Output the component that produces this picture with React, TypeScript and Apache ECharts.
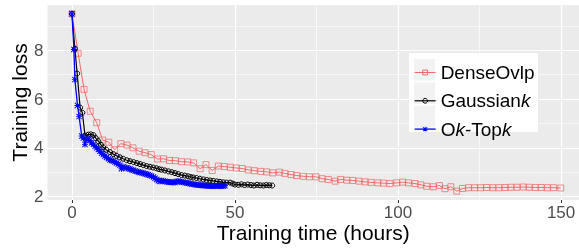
import React, { useEffect, useRef } from 'react';
import * as echarts from 'echarts';

const FONT = '"Liberation Sans", Arial, Helvetica, sans-serif';

const seriesNames = ['DenseOvlp', 'Gaussiank', 'Ok-Topk'];
const xTickLabels = [0, 50, 100, 150];
const xMinorGrid = [25, 75, 125];
const yTickLabels = [2, 4, 6, 8];
const yMinorGrid = [3, 5, 7, 9];

const denseT = [0, 1.9, 3.7, 5.6, 7.6, 9.4, 11.3, 13.1, 15.0, 16.9, 18.7, 20.6, 22.4, 24.3, 26.2, 28.1, 29.9, 31.7, 33.6, 35.5, 37.3, 39.3, 41.1, 43.0, 44.9, 46.7, 48.6, 50.4, 52.2, 54.1, 55.9, 57.9, 59.7, 61.6, 63.6, 65.3, 67.2, 68.9, 70.9, 72.8, 74.8, 76.7, 78.6, 80.7, 82.4, 84.3, 86.1, 88.0, 89.9, 91.7, 93.8, 95.5, 97.5, 99.6, 101.4, 103.2, 105.2, 107.0, 108.8, 110.8, 112.7, 114.4, 116.2, 118.0, 119.8, 121.6, 123.5, 125.3, 127.2, 129.1, 130.9, 132.8, 134.6, 136.5, 138.4, 140.2, 142.1, 143.9, 145.8, 147.7, 149.9];
const denseV = [9.5, 7.88, 6.4, 5.5, 5.03, 4.32, 4.23, 3.92, 4.17, 4.11, 4.0, 3.86, 3.8, 3.72, 3.54, 3.55, 3.48, 3.47, 3.43, 3.42, 3.38, 3.14, 3.31, 3.07, 3.25, 3.23, 3.2, 3.17, 3.15, 3.09, 3.06, 3.03, 3.01, 2.97, 3.0, 2.95, 2.9, 2.86, 2.83, 2.81, 2.81, 2.73, 2.7, 2.63, 2.7, 2.67, 2.66, 2.63, 2.6, 2.58, 2.56, 2.55, 2.53, 2.56, 2.59, 2.56, 2.53, 2.48, 2.42, 2.4, 2.45, 2.32, 2.4, 2.22, 2.33, 2.36, 2.36, 2.36, 2.37, 2.36, 2.36, 2.37, 2.38, 2.38, 2.39, 2.38, 2.37, 2.37, 2.36, 2.36, 2.35];

const gaussT = [0, 0.9, 1.6, 2.5, 3.2, 4.0, 5.0, 5.8, 6.6, 7.3, 8.1, 8.9, 9.6, 10.5, 11.7, 12.7, 13.7, 14.7, 15.7, 16.8, 17.8, 18.9, 19.9, 20.9, 21.9, 22.9, 23.9, 24.9, 25.9, 26.7, 27.5, 28.5, 29.6, 30.6, 31.6, 32.6, 33.6, 34.6, 35.6, 36.4, 37.2, 38.2, 39.2, 40.3, 41.3, 42.3, 43.3, 44.4, 45.4, 46.4, 47.4, 48.5, 49.3, 50.0, 51.0, 52.0, 52.9, 53.9, 54.9, 55.8, 56.8, 57.7, 58.7, 59.6, 60.5, 61.4];
const gaussV = [9.5, 8.07, 7.05, 5.65, 5.44, 4.5, 4.54, 4.55, 4.52, 4.4, 4.27, 4.12, 4.02, 3.92, 3.82, 3.74, 3.67, 3.61, 3.55, 3.49, 3.45, 3.41, 3.37, 3.33, 3.29, 3.25, 3.22, 3.19, 3.16, 3.12, 3.1, 3.07, 3.03, 3.0, 2.96, 2.92, 2.88, 2.86, 2.83, 2.8, 2.78, 2.76, 2.73, 2.7, 2.68, 2.66, 2.64, 2.62, 2.6, 2.58, 2.57, 2.57, 2.53, 2.49, 2.48, 2.5, 2.47, 2.49, 2.47, 2.45, 2.48, 2.46, 2.45, 2.47, 2.46, 2.45];

const oktopT = [0, 0.6, 0.9, 1.7, 2.2, 3.0, 3.5, 4.0, 4.5, 5.0, 5.5, 6.0, 6.6, 7.1, 7.6, 8.1, 8.6, 9.1, 9.6, 10.1, 10.6, 11.2, 11.7, 12.2, 12.7, 13.2, 13.7, 14.2, 14.7, 15.2, 15.7, 16.2, 16.8, 17.3, 17.8, 18.3, 18.8, 19.4, 19.9, 20.4, 20.9, 21.4, 21.9, 22.4, 22.9, 23.4, 23.9, 24.4, 25.0, 25.5, 26.0, 26.5, 27.0, 27.5, 28.0, 28.6, 29.1, 29.6, 30.1, 30.6, 31.1, 31.6, 32.1, 32.6, 33.1, 33.6, 34.1, 34.7, 35.2, 35.7, 36.2, 36.7, 37.2, 37.7, 38.2, 38.7, 39.3, 39.8, 40.3, 40.8, 41.3, 41.8, 42.3, 42.8, 43.3, 43.9, 44.4, 44.9, 45.4, 45.9, 46.4, 46.9];
const oktopV = [9.5, 8.04, 6.8, 5.74, 5.28, 4.48, 4.4, 4.14, 4.35, 4.34, 4.3, 4.2, 4.15, 4.06, 4.0, 3.93, 3.86, 3.78, 3.72, 3.66, 3.6, 3.55, 3.5, 3.48, 3.46, 3.42, 3.38, 3.33, 3.28, 3.14, 3.22, 3.19, 3.18, 3.15, 3.13, 3.1, 3.08, 3.05, 3.03, 3.01, 2.99, 2.97, 2.95, 2.93, 2.91, 2.89, 2.87, 2.84, 2.8, 2.75, 2.7, 2.65, 2.62, 2.66, 2.64, 2.62, 2.61, 2.6, 2.59, 2.58, 2.58, 2.57, 2.62, 2.63, 2.62, 2.6, 2.58, 2.57, 2.55, 2.54, 2.53, 2.51, 2.5, 2.49, 2.48, 2.47, 2.46, 2.46, 2.45, 2.45, 2.44, 2.44, 2.43, 2.43, 2.42, 2.43, 2.44, 2.43, 2.42, 2.44, 2.43, 2.44];

const RED = '#F0686A';
const RED_MARK = 'rgba(240,104,106,0.75)';
const ASTERISK = 'path://M4.2 0H5.8V10H4.2Z M0 4.2H10V5.8H0Z M1.1 0L10 8.9L8.9 10L0 1.1Z M8.9 0L10 1.1L1.1 10L0 8.9Z';

function zip(t: number[], v: number[]) {
  return t.map((x, i) => [x, v[i]]);
}

export default function App() {
  const ref = useRef<HTMLDivElement>(null);
  useEffect(() => {
    const chart = echarts.init(ref.current!, null, { renderer: 'svg' });
    const gridLines: any[] = [];
    xTickLabels.forEach((v) => gridLines.push({ xAxis: v, lineStyle: { width: 1.2 } }));
    xMinorGrid.forEach((v) => gridLines.push({ xAxis: v, lineStyle: { width: 0.6 } }));
    yTickLabels.forEach((v) => gridLines.push({ yAxis: v, lineStyle: { width: 1.2 } }));
    yMinorGrid.forEach((v) => gridLines.push({ yAxis: v, lineStyle: { width: 0.6 } }));

    const richBase = { fontSize: 19, color: '#000', fontFamily: FONT, lineHeight: 14 };
    const option: any = {
      animation: false,
      textStyle: { fontFamily: FONT },
      grid: {
        left: 47.5, right: 0, top: 5, bottom: 48,
        show: true, backgroundColor: '#EBEBEB', borderWidth: 0,
        outerBoundsMode: 'none', containLabel: false,
      },
      xAxis: {
        type: 'value',
        min: -7.5,
        max: 155.5,
        name: 'Training time (hours)',
        nameLocation: 'middle',
        nameGap: 21.5,
        nameMoveOverlap: false,
        nameTextStyle: { fontSize: 21, color: '#000', fontFamily: FONT },
        axisLine: { show: false },
        axisTick: { show: true, length: 3, lineStyle: { color: '#333333', width: 1 }, customValues: xTickLabels },
        axisLabel: { color: '#4D4D4D', fontSize: 17, margin: 3.5, fontFamily: FONT, customValues: xTickLabels },
        splitLine: { show: false },
      },
      yAxis: {
        type: 'value',
        min: 1.856,
        max: 9.864,
        name: 'Training loss',
        nameLocation: 'middle',
        nameGap: 18,
        nameMoveOverlap: false,
        nameTextStyle: { fontSize: 21, color: '#000', fontFamily: FONT },
        axisLine: { show: false },
        axisTick: { show: true, length: 3, lineStyle: { color: '#333333', width: 1 }, customValues: yTickLabels },
        axisLabel: { color: '#4D4D4D', fontSize: 17, margin: 4, fontFamily: FONT, customValues: yTickLabels },
        splitLine: { show: false },
      },
      legend: {
        data: [
          { name: seriesNames[0], itemStyle: { color: 'rgba(0,0,0,0)', borderColor: RED, borderWidth: 1 }, lineStyle: { color: RED, width: 1 } },
          { name: seriesNames[1], itemStyle: { color: 'rgba(0,0,0,0)', borderColor: '#000000', borderWidth: 1 }, lineStyle: { color: '#000000', width: 1.2 } },
          { name: seriesNames[2], itemStyle: { color: '#0000FF', borderWidth: 0 }, lineStyle: { color: '#0000FF', width: 1.3 } },
        ],
        orient: 'vertical',
        left: 414,
        top: 63,
        padding: 0,
        itemWidth: 21,
        itemHeight: 6,
        itemGap: 9.3,
        z: 10,
        selectedMode: false,
        textStyle: {
          ...richBase,
          rich: {
            n: { ...richBase },
            i: { ...richBase, fontStyle: 'italic' },
          },
        },
        formatter: (name: string) => {
          if (name === 'Gaussiank') return '{n|Gaussian}{i|k}';
          if (name === 'Ok-Topk') return '{n|O}{i|k}{n|-Top}{i|k}';
          return '{n|' + name + '}';
        },
      },
      graphic: [
        { type: 'rect', z: 8, shape: { x: 409, y: 53, width: 129, height: 79 }, style: { fill: '#FFFFFF' } },
        { type: 'rect', z: 8, shape: { x: 414, y: 59, width: 21, height: 21.7 }, style: { fill: '#F2F2F2' } },
        { type: 'rect', z: 8, shape: { x: 414, y: 82.3, width: 21, height: 21.7 }, style: { fill: '#F2F2F2' } },
        { type: 'rect', z: 8, shape: { x: 414, y: 105.7, width: 21, height: 21.7 }, style: { fill: '#F2F2F2' } },
      ],
      series: [
        {
          name: '__grid',
          type: 'line',
          data: [],
          z: 1,
          silent: true,
          markLine: {
            z: 1,
            silent: true,
            symbol: ['none', 'none'],
            label: { show: false },
            lineStyle: { color: '#FFFFFF', type: 'solid', width: 1 },
            emphasis: { disabled: true },
            data: gridLines,
          },
        },
        {
          name: 'DenseOvlp',
          type: 'line',
          data: zip(denseT, denseV),
          showAllSymbol: true,
          symbol: 'rect',
          symbolSize: 6,
          lineStyle: { color: RED, width: 1 },
          itemStyle: { color: 'rgba(0,0,0,0)', borderColor: RED_MARK, borderWidth: 1 },
          z: 2,
        },
        {
          name: 'Gaussiank',
          type: 'line',
          data: zip(gaussT, gaussV),
          showAllSymbol: true,
          symbol: 'circle',
          symbolSize: 5,
          lineStyle: { color: '#000000', width: 1.2 },
          itemStyle: { color: 'rgba(0,0,0,0)', borderColor: '#000000', borderWidth: 1 },
          z: 3,
        },
        {
          name: 'Ok-Topk',
          type: 'line',
          data: zip(oktopT, oktopV),
          showAllSymbol: true,
          symbol: ASTERISK,
          symbolSize: 6,
          lineStyle: { color: '#0000FF', width: 1.3 },
          itemStyle: { color: '#0000FF' },
          z: 4,
        },
      ],
    };
    chart.setOption(option);
    return () => chart.dispose();
  }, []);
  return <div ref={ref} style={{ position: 'fixed', left: 0, top: 0, width: 579, height: 248 }} />;
}
